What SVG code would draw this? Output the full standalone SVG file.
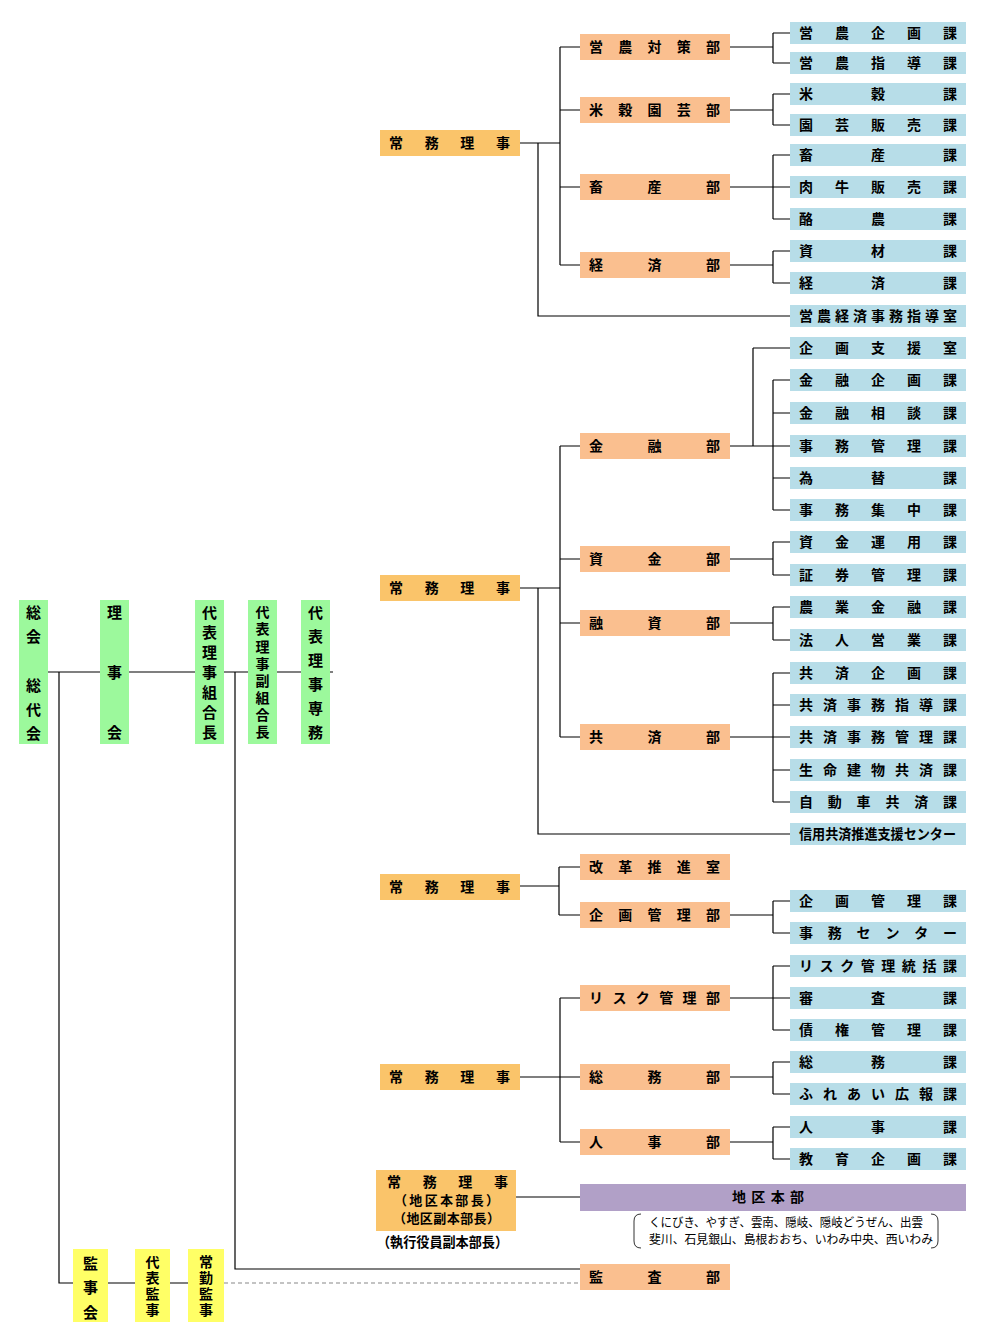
<svg xmlns="http://www.w3.org/2000/svg" width="1008" height="1344" viewBox="0 0 1008 1344">
<style>
.g{fill:#9cf99c}.y{fill:#ffff66}.o{fill:#fac46a}.d{fill:#fabf8f}.b{fill:#b7dde8}.p{fill:#b1a0c7}
text{font-family:"Noto Sans CJK JP","Noto Sans",sans-serif;font-weight:bold;font-size:14px;fill:#000}
.v{font-size:15px;writing-mode:vertical-rl}
.n{font-weight:normal;font-size:12px}
.c{fill:none;stroke:#000;stroke-width:1.2}
</style>
<rect width="1008" height="1344" fill="#fff"/>
<g id="connectors">
<path class="c" d="M47 672H100M129 672H195M223 672H248M276 672H301M330 672H333M59 672V1283H73M108 1283H135M170 1283H188M235 672V1269H580"/>
<path d="M224 1283H580" fill="none" stroke="#888" stroke-width="1.2" stroke-dasharray="4 3"/>
<path class="c" d="M520 143H560M560 47V265M560 47H580M560 110H580M560 187H580M560 265H580M538 143V316H790"/>
<path class="c" d="M730 47H773M773 33V63M773 33H790M773 63H790M730 110H773M773 94V125M773 94H790M773 125H790M730 187H790M773 155V219M773 155H790M773 219H790M730 265H773M773 251V283M773 251H790M773 283H790"/>
<path class="c" d="M520 588H560M560 446V737M560 446H580M560 559H580M560 623H580M560 737H580M538 588V834H790"/>
<path class="c" d="M730 446H790M753 348V446M753 348H790M773 380V510M773 380H790M773 413H790M773 478H790M773 510H790M730 559H773M773 542V575M773 542H790M773 575H790M730 623H773M773 607V640M773 607H790M773 640H790M730 737H790M773 673V802M773 673H790M773 705H790M773 770H790M773 802H790"/>
<path class="c" d="M520 886H559M559 867V915M559 867H580M559 915H580M730 915H773M773 901V933M773 901H790M773 933H790"/>
<path class="c" d="M520 1077H580M560 998V1142M560 998H580M560 1142H580M730 998H790M773 966V1030M773 966H790M773 1030H790M730 1077H773M773 1062V1094M773 1062H790M773 1094H790M730 1142H773M773 1127V1159M773 1127H790M773 1159H790M516 1197H580"/>
</g>
<g id="n-sokai"><rect class="g" x="19" y="600" width="29" height="144"/><text class="v" x="33.5" y="605" textLength="136" lengthAdjust="spacing">総会　総代会</text></g>
<g id="n-rijikai"><rect class="g" x="100" y="600" width="29" height="144"/><text class="v" x="114.5" y="604.5" textLength="135" lengthAdjust="spacing">理事会</text></g>
<g id="n-kumiaicho"><rect class="g" x="195" y="600" width="29" height="144"/><text class="v" x="209.5" y="604.5" textLength="135" lengthAdjust="spacing">代表理事組合長</text></g>
<g id="n-fukukumiaicho"><rect class="g" x="248" y="600" width="29" height="144"/><text class="v" x="262.5" y="605" textLength="134" lengthAdjust="spacing" style="font-size:14px">代表理事副組合長</text></g>
<g id="n-senmu"><rect class="g" x="301" y="600" width="29" height="144"/><text class="v" x="315.5" y="604.5" textLength="135" lengthAdjust="spacing">代表理事専務</text></g>
<g id="n-kanjikai"><rect class="y" x="73" y="1249" width="35" height="73"/><text class="v" x="90.5" y="1255.5" textLength="64" lengthAdjust="spacing">監事会</text></g>
<g id="n-daihyokanji"><rect class="y" x="135" y="1249" width="35" height="73"/><text class="v" x="152.5" y="1255" textLength="62" lengthAdjust="spacing" style="font-size:14px">代表監事</text></g>
<g id="n-jokinkanji"><rect class="y" x="188" y="1249" width="36" height="73"/><text class="v" x="206" y="1255" textLength="62" lengthAdjust="spacing" style="font-size:14px">常勤監事</text></g>
<g id="n-jomu1"><rect class="o" x="380" y="130" width="140" height="26"/><text x="389" y="148" textLength="121" lengthAdjust="spacing">常務理事</text></g>
<g id="n-jomu2"><rect class="o" x="380" y="575" width="140" height="26"/><text x="389" y="593" textLength="121" lengthAdjust="spacing">常務理事</text></g>
<g id="n-jomu3"><rect class="o" x="380" y="874" width="140" height="26"/><text x="389" y="892" textLength="121" lengthAdjust="spacing">常務理事</text></g>
<g id="n-jomu4"><rect class="o" x="380" y="1064" width="140" height="26"/><text x="389" y="1082" textLength="121" lengthAdjust="spacing">常務理事</text></g>
<g id="n-jomu5"><rect class="o" x="376" y="1170" width="140" height="61"/><text x="387" y="1187" textLength="121" lengthAdjust="spacing">常務理事</text><text x="394" y="1205" textLength="105" lengthAdjust="spacing" style="font-size:13px">（地区本部長）</text><text x="393" y="1223" textLength="107" lengthAdjust="spacing" style="font-size:13px">（地区副本部長）</text><text x="377" y="1247" textLength="131" lengthAdjust="spacingAndGlyphs">（執行役員副本部長）</text></g>
<g id="n-einotaisaku"><rect class="d" x="580" y="34" width="150" height="26"/><text x="589" y="52" textLength="131" lengthAdjust="spacing">営農対策部</text></g>
<g id="n-beikokuengei"><rect class="d" x="580" y="97" width="150" height="26"/><text x="589" y="115" textLength="131" lengthAdjust="spacing">米穀園芸部</text></g>
<g id="n-chikusan"><rect class="d" x="580" y="174" width="150" height="26"/><text x="589" y="192" textLength="131" lengthAdjust="spacing">畜産部</text></g>
<g id="n-keizai"><rect class="d" x="580" y="252" width="150" height="26"/><text x="589" y="270" textLength="131" lengthAdjust="spacing">経済部</text></g>
<g id="n-kinyu"><rect class="d" x="580" y="433" width="150" height="26"/><text x="589" y="451" textLength="131" lengthAdjust="spacing">金融部</text></g>
<g id="n-shikin"><rect class="d" x="580" y="546" width="150" height="26"/><text x="589" y="564" textLength="131" lengthAdjust="spacing">資金部</text></g>
<g id="n-yushi"><rect class="d" x="580" y="610" width="150" height="26"/><text x="589" y="628" textLength="131" lengthAdjust="spacing">融資部</text></g>
<g id="n-kyosai"><rect class="d" x="580" y="724" width="150" height="26"/><text x="589" y="742" textLength="131" lengthAdjust="spacing">共済部</text></g>
<g id="n-kaikaku"><rect class="d" x="580" y="854" width="150" height="26"/><text x="589" y="872" textLength="131" lengthAdjust="spacing">改革推進室</text></g>
<g id="n-kikakukanri"><rect class="d" x="580" y="902" width="150" height="26"/><text x="589" y="920" textLength="131" lengthAdjust="spacing">企画管理部</text></g>
<g id="n-risk"><rect class="d" x="580" y="985" width="150" height="26"/><text x="589" y="1003" textLength="131" lengthAdjust="spacing">リスク管理部</text></g>
<g id="n-somu"><rect class="d" x="580" y="1064" width="150" height="26"/><text x="589" y="1082" textLength="131" lengthAdjust="spacing">総務部</text></g>
<g id="n-jinji"><rect class="d" x="580" y="1129" width="150" height="26"/><text x="589" y="1147" textLength="131" lengthAdjust="spacing">人事部</text></g>
<g id="n-kansa"><rect class="d" x="580" y="1264" width="150" height="26"/><text x="589" y="1282" textLength="131" lengthAdjust="spacing">監査部</text></g>
<g id="n-chiku"><rect class="p" x="580" y="1184" width="386" height="27"/><text x="732" y="1202" textLength="72" lengthAdjust="spacing">地区本部</text></g>
<g id="n-chiku-list"><path d="M641 1214Q634 1214 634 1221V1241Q634 1248 641 1248M931 1214Q938 1214 938 1221V1241Q938 1248 931 1248" fill="none" stroke="#333" stroke-width="1"/><text class="n" x="649" y="1227" textLength="274" lengthAdjust="spacingAndGlyphs">くにびき、やすぎ、雲南、隠岐、隠岐どうぜん、出雲</text><text class="n" x="649" y="1244" textLength="284" lengthAdjust="spacingAndGlyphs">斐川、石見銀山、島根おおち、いわみ中央、西いわみ</text></g>
<g id="n-s01"><rect class="b" x="790" y="22" width="176" height="22"/><text x="799" y="38" textLength="158" lengthAdjust="spacing">営農企画課</text></g>
<g id="n-s02"><rect class="b" x="790" y="52" width="176" height="22"/><text x="799" y="68" textLength="158" lengthAdjust="spacing">営農指導課</text></g>
<g id="n-s03"><rect class="b" x="790" y="83" width="176" height="22"/><text x="799" y="99" textLength="158" lengthAdjust="spacing">米穀課</text></g>
<g id="n-s04"><rect class="b" x="790" y="114" width="176" height="22"/><text x="799" y="130" textLength="158" lengthAdjust="spacing">園芸販売課</text></g>
<g id="n-s05"><rect class="b" x="790" y="144" width="176" height="22"/><text x="799" y="160" textLength="158" lengthAdjust="spacing">畜産課</text></g>
<g id="n-s06"><rect class="b" x="790" y="176" width="176" height="22"/><text x="799" y="192" textLength="158" lengthAdjust="spacing">肉牛販売課</text></g>
<g id="n-s07"><rect class="b" x="790" y="208" width="176" height="22"/><text x="799" y="224" textLength="158" lengthAdjust="spacing">酪農課</text></g>
<g id="n-s08"><rect class="b" x="790" y="240" width="176" height="22"/><text x="799" y="256" textLength="158" lengthAdjust="spacing">資材課</text></g>
<g id="n-s09"><rect class="b" x="790" y="272" width="176" height="22"/><text x="799" y="288" textLength="158" lengthAdjust="spacing">経済課</text></g>
<g id="n-s10"><rect class="b" x="790" y="305" width="176" height="22"/><text x="799" y="321" textLength="158" lengthAdjust="spacing">営農経済事務指導室</text></g>
<g id="n-s11"><rect class="b" x="790" y="337" width="176" height="22"/><text x="799" y="353" textLength="158" lengthAdjust="spacing">企画支援室</text></g>
<g id="n-s12"><rect class="b" x="790" y="369" width="176" height="22"/><text x="799" y="385" textLength="158" lengthAdjust="spacing">金融企画課</text></g>
<g id="n-s13"><rect class="b" x="790" y="402" width="176" height="22"/><text x="799" y="418" textLength="158" lengthAdjust="spacing">金融相談課</text></g>
<g id="n-s14"><rect class="b" x="790" y="435" width="176" height="22"/><text x="799" y="451" textLength="158" lengthAdjust="spacing">事務管理課</text></g>
<g id="n-s15"><rect class="b" x="790" y="467" width="176" height="22"/><text x="799" y="483" textLength="158" lengthAdjust="spacing">為替課</text></g>
<g id="n-s16"><rect class="b" x="790" y="499" width="176" height="22"/><text x="799" y="515" textLength="158" lengthAdjust="spacing">事務集中課</text></g>
<g id="n-s17"><rect class="b" x="790" y="531" width="176" height="22"/><text x="799" y="547" textLength="158" lengthAdjust="spacing">資金運用課</text></g>
<g id="n-s18"><rect class="b" x="790" y="564" width="176" height="22"/><text x="799" y="580" textLength="158" lengthAdjust="spacing">証券管理課</text></g>
<g id="n-s19"><rect class="b" x="790" y="596" width="176" height="22"/><text x="799" y="612" textLength="158" lengthAdjust="spacing">農業金融課</text></g>
<g id="n-s20"><rect class="b" x="790" y="629" width="176" height="22"/><text x="799" y="645" textLength="158" lengthAdjust="spacing">法人営業課</text></g>
<g id="n-s21"><rect class="b" x="790" y="662" width="176" height="22"/><text x="799" y="678" textLength="158" lengthAdjust="spacing">共済企画課</text></g>
<g id="n-s22"><rect class="b" x="790" y="694" width="176" height="22"/><text x="799" y="710" textLength="158" lengthAdjust="spacing">共済事務指導課</text></g>
<g id="n-s23"><rect class="b" x="790" y="726" width="176" height="22"/><text x="799" y="742" textLength="158" lengthAdjust="spacing">共済事務管理課</text></g>
<g id="n-s24"><rect class="b" x="790" y="759" width="176" height="22"/><text x="799" y="775" textLength="158" lengthAdjust="spacing">生命建物共済課</text></g>
<g id="n-s25"><rect class="b" x="790" y="791" width="176" height="22"/><text x="799" y="807" textLength="158" lengthAdjust="spacing">自動車共済課</text></g>
<g id="n-s26"><rect class="b" x="790" y="823" width="176" height="22"/><text x="799" y="839" textLength="157" lengthAdjust="spacingAndGlyphs">信用共済推進支援センター</text></g>
<g id="n-s27"><rect class="b" x="790" y="890" width="176" height="22"/><text x="799" y="906" textLength="158" lengthAdjust="spacing">企画管理課</text></g>
<g id="n-s28"><rect class="b" x="790" y="922" width="176" height="22"/><text x="799" y="938" textLength="158" lengthAdjust="spacing">事務センター</text></g>
<g id="n-s29"><rect class="b" x="790" y="955" width="176" height="22"/><text x="799" y="971" textLength="158" lengthAdjust="spacing">リスク管理統括課</text></g>
<g id="n-s30"><rect class="b" x="790" y="987" width="176" height="22"/><text x="799" y="1003" textLength="158" lengthAdjust="spacing">審査課</text></g>
<g id="n-s31"><rect class="b" x="790" y="1019" width="176" height="22"/><text x="799" y="1035" textLength="158" lengthAdjust="spacing">債権管理課</text></g>
<g id="n-s32"><rect class="b" x="790" y="1051" width="176" height="22"/><text x="799" y="1067" textLength="158" lengthAdjust="spacing">総務課</text></g>
<g id="n-s33"><rect class="b" x="790" y="1083" width="176" height="22"/><text x="799" y="1099" textLength="158" lengthAdjust="spacing">ふれあい広報課</text></g>
<g id="n-s34"><rect class="b" x="790" y="1116" width="176" height="22"/><text x="799" y="1132" textLength="158" lengthAdjust="spacing">人事課</text></g>
<g id="n-s35"><rect class="b" x="790" y="1148" width="176" height="22"/><text x="799" y="1164" textLength="158" lengthAdjust="spacing">教育企画課</text></g>
</svg>
